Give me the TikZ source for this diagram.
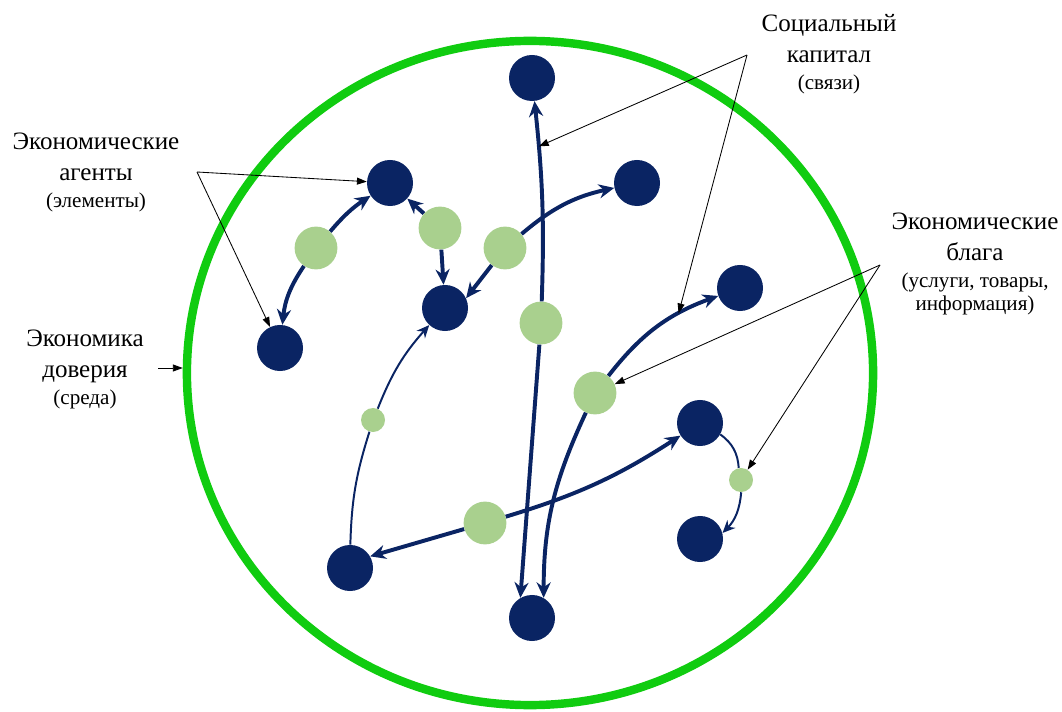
\documentclass[tikz,border=0pt]{standalone}
\usepackage{fontspec}
\setmainfont{Liberation Serif}
\usetikzlibrary{arrows.meta,shapes.geometric}
\definecolor{agentblue}{RGB}{10,36,99}
\definecolor{goodgreen}{RGB}{169,208,142}
\definecolor{ringgreen}{RGB}{16,204,16}
\begin{document}
\begin{tikzpicture}[x=0.025cm,y=0.025cm,
    agent/.style={circle,fill=agentblue,minimum size=1.15cm,inner sep=0pt},
    good/.style={circle,fill=goodgreen,minimum size=1.07cm,inner sep=0pt},
    smallgood/.style={circle,fill=goodgreen,minimum size=0.6cm,inner sep=0pt},
    link/.style={draw=agentblue,line width=2.8pt,-{Stealth[length=11pt,width=10pt]}},
    thinlink/.style={draw=agentblue,line width=1.4pt},
    notearrow/.style={draw=black,line width=0.6pt,-{Triangle[length=7pt,width=5pt]}},
    notetext/.style={align=center,inner sep=0pt,anchor=north,font=\fontsize{17.8}{22}\selectfont}]
    \useasboundingbox (0,0) rectangle (1062,711);
    % environment
    \node[draw=ringgreen,line width=6pt,ellipse,minimum width=17.15cm,minimum height=16.6cm,inner sep=0pt] (ring) at (530,338) {};
    % agents
    \node[agent] (a1) at (532,633) {};
    \node[agent] (a2) at (390,528) {};
    \node[agent] (a3) at (637,528) {};
    \node[agent] (a4) at (280,363) {};
    \node[agent] (a5) at (445,403) {};
    \node[agent] (a6) at (740,423) {};
    \node[agent] (a7) at (700,288) {};
    \node[agent] (a8) at (700,172) {};
    \node[agent] (a9) at (350,143) {};
    \node[agent] (a10) at (532,93) {};
    % goods
    \node[good] (g1) at (316,463) {};
    \node[good] (g2) at (440,483) {};
    \node[good] (g3) at (505,463) {};
    \node[good] (g4) at (541,388) {};
    \node[good] (g5) at (595,318) {};
    \node[good] (g6) at (485,188) {};
    \node[smallgood] (g7) at (373,291) {};
    \node[smallgood] (g8) at (741,231) {};
    % ties
    \draw[link] (g1) to[bend left=8] (a2);
    \draw[link] (g1) to[bend right=14] (a4);
    \draw[link] (g2) -- (a2);
    \draw[link] (g2) -- (a5);
    \draw[link] (g3) to[bend left=14] (a3);
    \draw[link] (g3) -- (a5.25);
    \draw[link] (g4) to[bend right=4] coordinate[pos=0.79] (tiesup) (a1);
    \draw[link] (g4) -- (a10.120);
    \draw[link] (g5) to[bend left=16] coordinate[pos=0.7] (tiesright) (a6);
    \draw[link] (g5) to[out=-115,in=90] (a10.60);
    \draw[link] (g6) to[bend right=8] (a7);
    \draw[link] (g6) -- (a9.30);
    \draw[thinlink] (a9) to[bend left=8] (g7);
    \draw[thinlink,-{Stealth[length=9pt,width=8pt]}] (g7) to[bend left=10] (a5);
    \draw[thinlink] (a7) to[bend left=25] (g8);
    \draw[thinlink,-{Stealth[length=9pt,width=8pt]}] (g8) to[bend left=20] (a8.15);
    % captions
    \node[notetext] (agentstext) at (96,578) {Экономические\\агенты\\[-3pt]{\fontsize{15}{16}\selectfont(элементы)}};
    \node[notetext] (envtext) at (85,381) {Экономика\\доверия\\[-3pt]{\fontsize{15}{16}\selectfont(среда)}};
    \node[notetext] (tiestext) at (829,697) {Социальный\\капитал\\[-3pt]{\fontsize{15}{16}\selectfont(связи)}};
    \node[notetext] (goodstext) at (975,498) {Экономические\\блага\\[-3pt]{\fontsize{15}{16}\selectfont(услуги, товары,}\\[-5.6pt]{\fontsize{15}{16}\selectfont информация)}};
    \coordinate (agentsfrom) at (197,539);
    \coordinate (tiesfrom) at (747,656);
    \coordinate (goodsfrom) at (880,446);
    \coordinate (envfrom) at (158,343);
    \draw[notearrow] (agentsfrom) -- (a2);
    \draw[notearrow] (agentsfrom) -- (a4);
    \draw[notearrow] (tiesfrom) -- (tiesup);
    \draw[notearrow] (tiesfrom) -- (tiesright);
    \draw[notearrow] (goodsfrom) -- (g5);
    \draw[notearrow] (goodsfrom) -- (g8);
    \draw[notearrow] (envfrom) -- (envfrom -| ring.west);
\end{tikzpicture}
\end{document}
